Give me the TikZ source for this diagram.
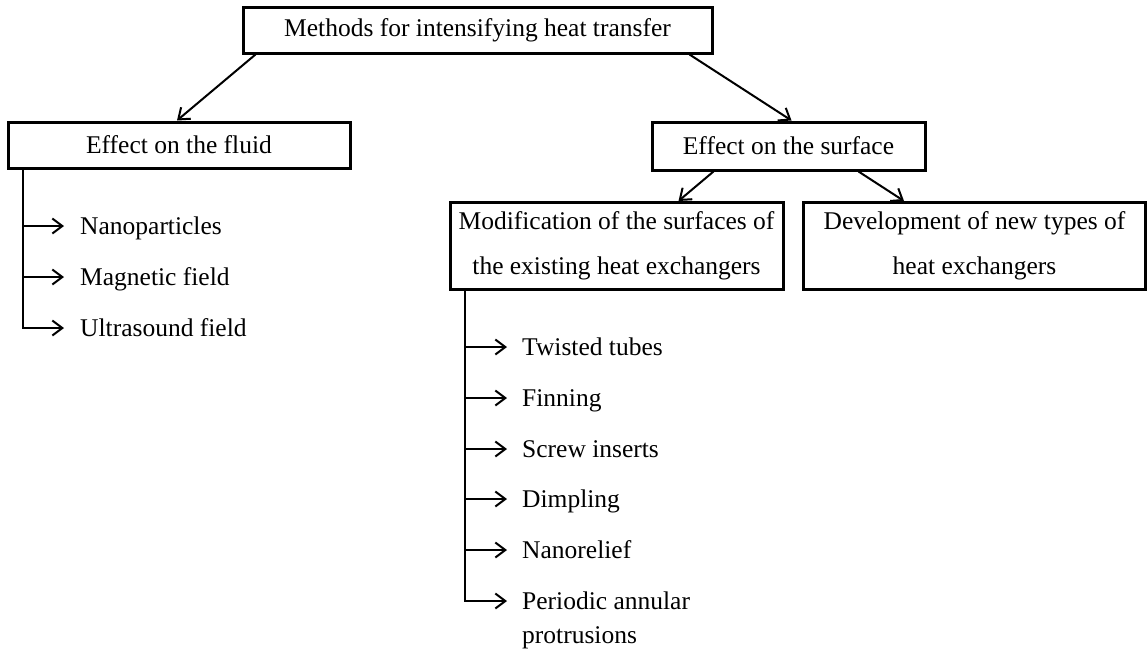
\documentclass[tikz,border=0pt]{standalone}
\usepackage{fontspec}
\setmainfont{Liberation Serif}
\usetikzlibrary{arrows.meta,calc}
\begin{document}
\begin{tikzpicture}[x=1pt,y=-1pt,
  box/.style={draw,line width=3pt,rectangle,inner sep=0pt,align=center,font=\fontsize{25.5}{45}\selectfont},
  item/.style={inner sep=0pt,anchor=base west,font=\fontsize{25.5}{30}\selectfont},
  conn/.style={line width=2pt,-{Straight Barb[length=10pt,width=15pt,line width=2pt]}},
  trunk/.style={line width=2pt}]
\useasboundingbox (0,0) rectangle (1148,651);

% boxes
\node[box,minimum width=469pt,minimum height=46pt] (top) at (477.5,30) {Methods for intensifying heat transfer};
\node[box,minimum width=342pt,minimum height=46pt] (fluid) at (179,145) {Effect on the fluid};
\node[box,minimum width=273pt,minimum height=48pt] (surf) at (788.5,146) {Effect on the surface};
\node[box,minimum width=333pt,minimum height=87pt] (modif) at (616.5,246) {Modification of the surfaces of\\the existing heat exchangers};
\node[box,minimum width=342pt,minimum height=87pt] (devel) at (974.5,246) {Development of new types of\\heat exchangers};

% top-level connectors
\draw[conn] ($(top.south west)+(14,0)$) -- ($(fluid.north)+(-2,0)$);
\draw[conn] ($(top.south east)+(-24,0)$) -- ($(surf.north)+(3,0)$);
\draw[conn] ($(surf.south west)+(63,0)$) -- ($(modif.north east)+(-106,0)$);
\draw[conn] ($(surf.south west)+(208,0)$) -- ($(devel.north west)+(102,0)$);

% left list
\coordinate (l1) at (23,226);
\coordinate (l2) at (23,277);
\coordinate (l3) at (23,328);
\node[item] (n1) at (80,234) {Nanoparticles};
\node[item] (n2) at (80,285) {Magnetic field};
\node[item] (n3) at (80,336) {Ultrasound field};
\draw[trunk] (fluid.south -| l1) -- (l2);
\draw[conn,shorten >=16pt] (l1) -- (l1 -| n1.west);
\draw[conn,shorten >=16pt] (l2) -- (l2 -| n2.west);
\draw[conn,shorten >=16pt] (l2) -- (l3) -- (l3 -| n3.west);

% modification list
\coordinate (m1) at (465,347);
\coordinate (m2) at (465,398);
\coordinate (m3) at (465,449);
\coordinate (m4) at (465,499);
\coordinate (m5) at (465,550);
\coordinate (m6) at (465,601);
\node[item] (t1) at (522,355) {Twisted tubes};
\node[item] (t2) at (522,406) {Finning};
\node[item] (t3) at (522,457) {Screw inserts};
\node[item] (t4) at (522,507) {Dimpling};
\node[item] (t5) at (522,558) {Nanorelief};
\node[item] (t6) at (522,609) {Periodic annular};
\node[item] (t6b) at (522,643) {protrusions};
\draw[trunk] (modif.south -| m1) -- (m5);
\draw[conn,shorten >=15pt] (m1) -- (m1 -| t1.west);
\draw[conn,shorten >=15pt] (m2) -- (m2 -| t2.west);
\draw[conn,shorten >=15pt] (m3) -- (m3 -| t3.west);
\draw[conn,shorten >=15pt] (m4) -- (m4 -| t4.west);
\draw[conn,shorten >=15pt] (m5) -- (m5 -| t5.west);
\draw[conn,shorten >=15pt] (m5) -- (m6) -- (m6 -| t6.west);
\end{tikzpicture}
\end{document}
